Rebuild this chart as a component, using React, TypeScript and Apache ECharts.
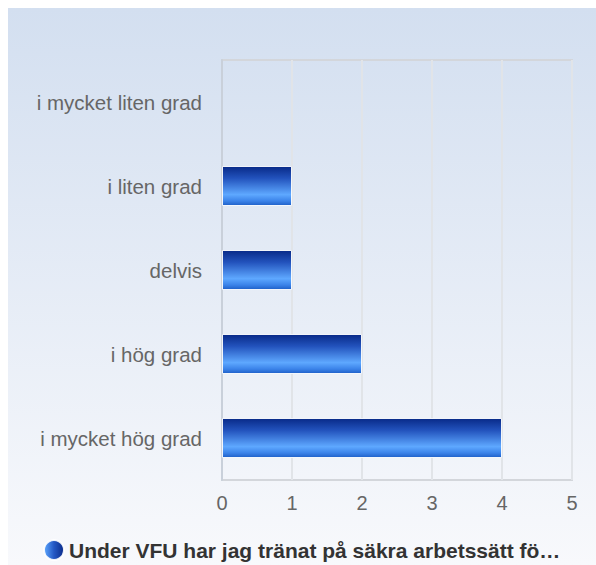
import React, { useEffect, useRef } from "react";
import * as echarts from "echarts";

const categories = [
  "i mycket liten grad",
  "i liten grad",
  "delvis",
  "i hög grad",
  "i mycket hög grad",
];
const values = [0, 1, 1, 2, 4];
const seriesName = "Under VFU har jag tränat på säkra arbetssätt fö…";
const xTicks = { min: 0, max: 5, interval: 1 };

const FONT = "'Liberation Sans', Arial, Helvetica, sans-serif";

export default function App() {
  const ref = useRef<HTMLDivElement>(null);
  useEffect(() => {
    if (!ref.current) return;
    const chart = echarts.init(ref.current, undefined, { renderer: "svg" });
    const barGradient = new echarts.graphic.LinearGradient(0, 0, 0, 1, [
      { offset: 0, color: "#082a88" },
      { offset: 0.3, color: "#2252bc" },
      { offset: 0.72, color: "#5ea8ff" },
      { offset: 0.88, color: "#3c84ea" },
      { offset: 1, color: "#1e60c8" },
    ]);
    const legendGradient = new echarts.graphic.LinearGradient(0, 0, 1, 0, [
      { offset: 0, color: "#5ea8ff" },
      { offset: 0.5, color: "#2458c4" },
      { offset: 1, color: "#0a2a88" },
    ]);
    chart.setOption({
      animation: false,
      backgroundColor: new echarts.graphic.LinearGradient(0, 0, 0, 1, [
        { offset: 0, color: "#d3dff0" },
        { offset: 1, color: "#f8f9fc" },
      ]),
      textStyle: { fontFamily: FONT },
      grid: {
        left: 214,
        top: 52,
        width: 350,
        height: 420,
        show: true,
        borderColor: "#d3d6db",
        borderWidth: 2,
        backgroundColor: "transparent",
      },
      legend: {
        left: 35,
        top: 531,
        padding: 0,
        itemWidth: 20,
        itemHeight: 20,
        itemGap: 8,
        icon: "circle",
        data: [{ name: seriesName, itemStyle: { color: legendGradient } }],
        textStyle: {
          fontFamily: FONT,
          fontSize: 21,
          fontWeight: "bold",
          color: "#333333",
        },
      },
      xAxis: {
        type: "value",
        min: xTicks.min,
        max: xTicks.max,
        interval: xTicks.interval,
        axisLine: { show: false },
        axisTick: { show: false },
        splitLine: { show: true, lineStyle: { color: "#e1e4e8", width: 2 } },
        axisLabel: {
          color: "#666666",
          fontSize: 20,
          fontFamily: FONT,
          margin: 13,
        },
      },
      yAxis: {
        type: "category",
        data: categories,
        inverse: true,
        axisLine: { show: true, lineStyle: { color: "#c9d0da", width: 2 } },
        axisTick: { show: false },
        axisLabel: {
          color: "#666666",
          fontSize: 20.5,
          fontFamily: FONT,
          margin: 20,
        },
      },
      series: [
        {
          name: seriesName,
          type: "bar",
          barWidth: 40,
          data: values.map((v) =>
            v === 0 ? { value: v, itemStyle: { borderWidth: 0 } } : v
          ),
          itemStyle: {
            color: barGradient,
            borderColor: "rgba(255,255,255,0.9)",
            borderWidth: 1,
          },
        },
      ],
    });
    return () => chart.dispose();
  }, []);
  return (
    <div
      ref={ref}
      style={{ position: "absolute", left: 8, top: 8, width: 588, height: 557 }}
    />
  );
}
